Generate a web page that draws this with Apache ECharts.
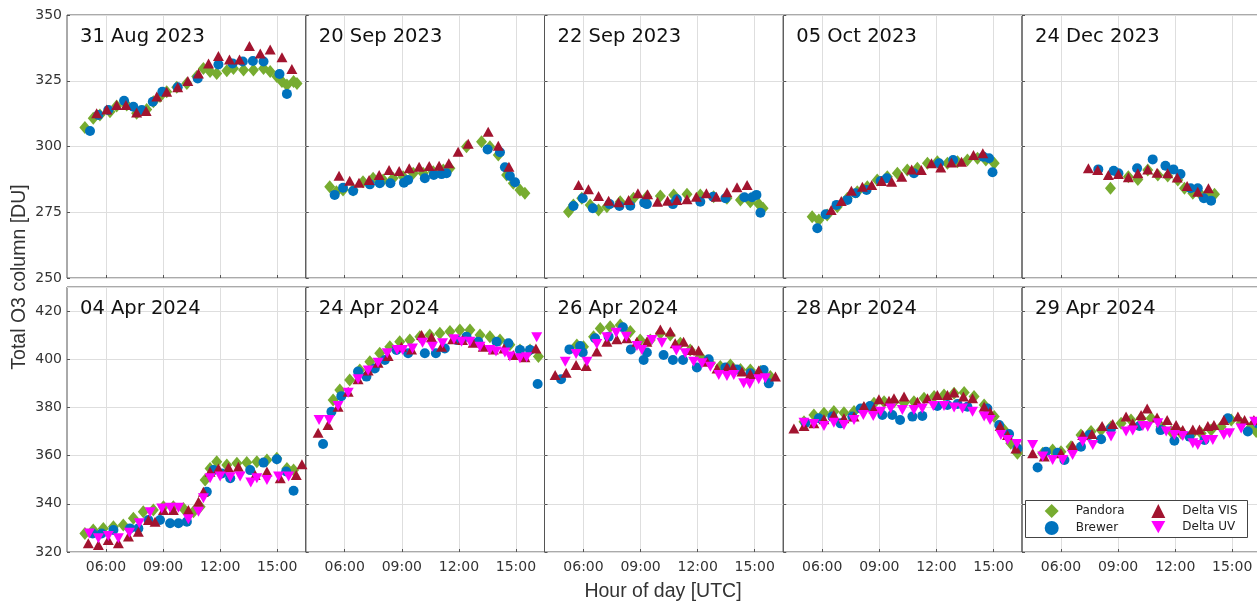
<!DOCTYPE html>
<html>
<head>
<meta charset="utf-8">
<script src="https://cdn.jsdelivr.net/npm/echarts@6/dist/echarts.min.js"></script>
<style>
html,body{margin:0;padding:0;background:#fff;}
#chart{width:1257px;height:604px;}
</style>
</head>
<body>
<div id="chart"></div>
<script>
// panel titles
const days = ['31 Aug 2023','20 Sep 2023','22 Sep 2023','05 Oct 2023','24 Dec 2023',
              '04 Apr 2024','24 Apr 2024','26 Apr 2024','28 Apr 2024','29 Apr 2024']
const xTicks = [6, 9, 12, 15]   // hour of day
const yTopTicks = {min: 250, max: 350, interval: 25}
const yBottomTicks = {min: 320, max: 430, interval: 20}

// [hour UTC, total O3 DU]
const pandora0831 = [[4.89,307.2],[5.33,310.7],[5.68,312],[6.21,313.2],[6.56,315.4],[7.09,315.8],[7.61,312.6],[8.14,314.1],[8.49,317],[8.84,319],[9.19,320.8],[9.72,322.5],[10.25,324],[10.77,326.6],[11.12,329.7],[11.47,328.5],[11.82,327.8],[12.35,328.8],[12.7,329.7],[13.23,329.1],[13.75,329.1],[14.28,329.7],[14.63,328.5],[14.98,326.6],[15.25,324.7],[15.51,323.4],[15.86,324.7],[16.04,324]]
const brewer0831 = [[5.16,305.9],[5.6,312],[6.12,313.9],[6.95,317.4],[7.44,315.1],[7.88,313.9],[8.46,317],[8.96,320.8],[9.77,322.5],[10.82,325.9],[11.91,331.2],[12.65,331.6],[13.19,332.3],[13.72,332.5],[14.28,332.3],[15.12,327.6],[15.51,320]]
const vis0831 = [[5.51,312.6],[6.04,314.1],[6.56,315.8],[7.05,315.8],[7.61,312.9],[8.11,313.5],[8.67,319],[9.19,320.8],[9.77,322.5],[10.3,324.9],[10.86,327.8],[11.39,331.6],[11.91,334.4],[12.49,333.1],[13.02,333.1],[13.54,338.2],[14.11,335.4],[14.63,336.9],[15.25,333.9],[15.77,329.5]]

const pandora0920 = [[5.21,284.7],[5.56,282.8],[5.91,283.5],[6.44,283.5],[6.96,286.6],[7.49,287.9],[8.02,287.3],[8.54,287.9],[9.07,288.5],[9.6,289.8],[10.12,289.8],[10.65,290.4],[11.18,291.1],[11.53,291.7],[12.4,299.9],[13.19,301.8],[13.63,299.9],[14.07,296.8],[14.51,289.2],[14.86,286],[15.21,283.5],[15.47,282.2]]
const brewer0920 = [[5.47,281.6],[5.91,284.3],[6.44,283.1],[7.32,285.6],[7.84,286],[8.4,286],[9.11,286.2],[9.33,287.3],[10.21,287.9],[10.68,289.2],[11.09,289.5],[11.35,289.8],[13.51,298.9],[14.16,297.8],[14.42,292.1],[14.68,288.8],[14.95,286.4]]
const vis0920 = [[5.7,288.9],[6.26,287],[6.75,286.2],[7.28,287.3],[7.81,289.2],[8.33,291.1],[8.86,290.7],[9.39,291.7],[9.91,292.3],[10.44,292.6],[10.96,292.7],[11.47,293.6],[11.96,298],[12.49,301],[13.54,305.6],[14.07,300.3],[14.63,292.3]]

const pandora0922 = [[5.21,275.2],[5.47,277.8],[5.91,280.3],[6.35,277.8],[6.79,275.9],[7.23,277.1],[7.93,279],[8.63,280.3],[9.33,280.9],[10.04,281.2],[10.74,281.6],[11.44,281.8],[12.14,281.6],[12.84,280.9],[13.54,280.3],[14.25,279.7],[14.77,279],[15.21,278.1],[15.44,276.5]]
const brewer0922 = [[5.47,277.4],[5.96,280.3],[6.49,276.5],[7.37,278.1],[7.89,277.4],[8.46,277.5],[9.19,278.6],[9.33,278.1],[10.7,278.1],[10.91,279.9],[12.14,279],[12.81,280.9],[13.46,280.3],[14.46,280.7],[14.86,280.7],[15.09,281.6],[15.3,274.8]]
const vis0922 = [[5.74,285.4],[6.26,283.7],[6.79,281.2],[7.32,279.4],[7.84,278.8],[8.37,279.7],[8.86,282.2],[9.37,281.8],[9.89,279],[10.42,279.4],[10.91,279.7],[11.44,279.9],[11.93,280.9],[12.46,282.2],[12.98,280.9],[13.54,282.6],[14.07,284.5],[14.6,285.4]]

const pandora1005 = [[5.47,273.3],[5.82,272.1],[6.26,274],[6.79,277.1],[7.32,280.3],[7.84,282.8],[8.37,284.7],[8.89,287.3],[9.42,288.5],[9.95,289.8],[10.47,291.1],[11,291.7],[11.53,293.6],[12.05,294.2],[12.58,293.6],[13.11,294.2],[13.63,294.9],[14.16,295.5],[14.6,294.9],[15.04,293.6]]
const brewer1005 = [[5.74,268.9],[6.18,274.2],[6.75,277.8],[7.32,279.7],[7.75,282.2],[8.33,283.5],[9.07,286.9],[9.39,287.9],[10.82,289.8],[12.14,293.6],[12.88,294.9],[14.47,296.1],[14.77,295.5],[14.95,290.2]]
const vis1005 = [[6.47,275.9],[7,279.3],[7.53,283.2],[8.11,284.7],[8.6,285.4],[9.12,286.9],[9.65,286.6],[10.18,288.5],[10.7,291.3],[11.21,291.1],[11.74,293.6],[12.23,292],[12.79,293.9],[13.32,294.2],[13.95,296.8],[14.44,297.4]]

const pandora1224 = [[8.6,284.1],[9.54,288.5],[10.04,287.5],[10.56,291.1],[11.09,289.2],[11.61,288.8],[12.14,287.3],[12.49,284.1],[12.93,282.2],[13.37,281.6],[13.72,282.2],[14.07,281.8]]
const brewer1224 = [[7.96,291.3],[8.77,290.8],[9.02,289.8],[10,291.7],[10.82,295.1],[11.49,292.7],[11.91,291.3],[12.28,289.5],[12.81,284.1],[13.19,284.1],[13.51,280.3],[13.89,279.4]]
const vis1224 = [[7.44,291.7],[7.93,291.1],[8.49,289.2],[9.02,289.5],[9.54,288.3],[10.04,289.8],[10.56,291.3],[11.05,290],[11.61,289.8],[12.11,288.2],[12.63,285],[13.19,282.8],[13.75,284.1]]

const pandora0404 = [[4.89,327.7],[5.33,329.1],[5.86,329.8],[6.39,330.5],[6.91,331.2],[7.44,334],[7.96,336.7],[8.49,337.4],[9.02,338.8],[9.54,338.8],[10.07,338.1],[10.6,336.7],[10.95,338.8],[11.21,349.9],[11.47,354.7],[11.82,357.5],[12.35,356.1],[12.88,356.8],[13.4,357.1],[13.93,357.5],[14.46,358.2],[14.98,358.9],[15.51,354.7],[15.86,354]]
const brewer0404 = [[5.3,327.7],[5.77,327.7],[6.39,329.1],[7.26,329.8],[7.7,329.8],[8.23,333.3],[8.84,333.3],[9.37,331.9],[9.81,331.9],[10.25,332.6],[11.3,345],[11.65,354],[12.09,352.6],[12.53,350.6],[13.58,354],[14.28,357.1],[14.98,358.5],[15.47,353.4],[15.86,345.4]]
const vis0404 = [[5.07,323.6],[5.6,322.9],[6.12,325],[6.65,323.6],[7.18,326.4],[7.7,328.4],[8.23,333.3],[8.58,332.6],[9.02,337.4],[9.54,337.4],[10.33,337.4],[10.86,340.9],[11.12,345],[11.47,353.3],[11.91,354.7],[12.44,355.1],[12.96,355.4],[13.84,352],[14.46,353.4],[15.16,350.6],[16,352],[16.3,356.4]]
const uv0404 = [[5.12,327.7],[5.6,325.7],[6.12,326.6],[6.65,325.7],[7.23,328],[7.75,331.9],[8.32,336.5],[8.93,338.1],[9.37,338.4],[9.81,338.4],[10.33,333.6],[10.86,336.7],[11.12,342.3],[11.47,350.6],[12,351.3],[12.53,351],[13.05,351.3],[13.61,348.8],[13.93,350.6],[14.46,349.9],[15.07,351.3],[15.6,351.3]]

const pandora0424 = [[5.39,383.1],[5.74,387.2],[6.26,391.4],[6.79,395.5],[7.32,399],[7.84,402.5],[8.37,405.2],[8.89,407.3],[9.42,408],[9.95,409.4],[10.47,410.1],[11,410.8],[11.53,411.5],[12.05,412.2],[12.58,412.2],[13.11,410.1],[13.63,409.4],[14.16,408],[14.68,406],[15.21,403.9],[15.74,403.9],[16.18,401.1]]
const brewer0424 = [[4.86,364.8],[5.3,378.2],[5.82,384.7],[6.7,394.9],[7.14,392.8],[7.58,396.2],[8.11,399.7],[8.72,403.9],[9.33,402.5],[10.21,402.5],[10.79,402.5],[11.26,404.5],[11.88,408],[12.4,409.4],[13.02,407.3],[13.98,407.3],[14.6,406.6],[15.21,403.9],[15.74,403.9],[16.14,389.7]]
const vis0424 = [[4.6,369.5],[5.12,372.7],[5.65,380.3],[6.18,386.5],[6.7,391.7],[7.23,395.3],[7.75,398.6],[8.28,401.4],[8.98,405.2],[9.51,404.1],[10.04,410.1],[10.56,409.1],[11.09,405.2],[11.67,408.3],[12.19,408],[12.75,406.9],[13.28,405.2],[13.81,404.1],[14.37,404.5],[14.86,401.8],[15.47,400.8],[16.05,404.5]]
const uv0424 = [[4.65,374.8],[5.18,374.8],[5.65,380.6],[6.18,386.1],[6.7,391.7],[7.23,395.3],[7.75,398.6],[8.23,402.5],[8.75,403.9],[9.04,403.9],[9.56,404.5],[10.09,406.9],[10.61,405.2],[11.14,406.6],[11.74,408.3],[12.14,407.3],[12.58,407.3],[13.11,405.2],[13.63,403.9],[13.95,403.2],[14.42,402.8],[14.68,401.1],[15.21,400.4],[15.56,400.8],[16.09,409.1]]

const pandora0426 = [[5.65,405.9],[6,405.2],[6.53,409.4],[6.88,412.8],[7.4,413.5],[7.93,414.2],[8.46,411.5],[8.98,408],[9.51,408],[10.04,410.8],[10.56,410.1],[11.09,406.6],[11.61,403.9],[12.14,401.1],[12.67,398.3],[13.19,397],[13.72,397.6],[14.25,395.8],[14.77,395.5],[15.3,394.9],[15.82,392.8]]
const brewer0426 = [[4.82,391.7],[5.26,404.1],[5.82,405.5],[5.96,402.8],[6.61,408.7],[7.32,409.4],[8.07,413.3],[8.49,404.1],[9.16,399.7],[9.33,402.8],[10.21,401.8],[10.7,399.7],[11.23,399.7],[11.96,396.6],[12.58,400],[13.46,396.6],[14.07,395.8],[14.77,394.2],[15.47,395.5],[15.74,390]]
const vis0426 = [[4.51,393.5],[5.09,394.4],[5.61,397.6],[6.14,397.2],[6.7,403.2],[7.23,407.3],[7.75,408.3],[8.28,408.7],[8.81,407.3],[9.33,407.3],[10.04,412.4],[10.56,411.5],[10.82,406.6],[11.26,407.3],[11.7,403.9],[12.05,403.6],[12.49,399],[13.02,396.2],[13.54,396.6],[13.86,396.6],[14.33,394.9],[14.77,393.9],[15.21,395.3],[16.09,392.8]]
const uv0426 = [[5.04,399],[5.61,402.2],[6.18,399],[6.7,406.3],[7.23,409.1],[7.72,411],[8.25,409.4],[8.81,405.5],[9.07,403.9],[9.6,408],[10.12,406.9],[10.88,403.6],[11.35,402.5],[11.79,399],[12.23,398.3],[12.67,396.9],[13.11,393.5],[13.54,393.1],[13.9,393.5],[14.42,390],[14.74,389.7],[15.21,391.7],[15.56,392.1]]

const pandora0428 = [[5.04,374.1],[5.56,376.9],[6.09,377.6],[6.61,378.3],[7.14,377.8],[7.67,378.3],[8.19,379.6],[8.72,381.7],[9.25,382.4],[9.77,382.4],[10.3,382],[10.82,382.4],[11.35,383.8],[11.88,384.5],[12.4,385.2],[12.93,385.9],[13.46,386.2],[13.98,384.5],[14.51,381],[15.04,376.2],[15.56,370.6],[15.91,365.1],[16.26,361]]
const brewer0428 = [[5.12,373.7],[5.82,375.5],[6.53,376.2],[6.96,373.4],[7.58,376.2],[8.02,379.6],[8.51,380.6],[9.16,376.9],[9.68,376.9],[10.09,374.8],[10.74,376.2],[11.26,376.5],[12.05,380.6],[12.58,381],[13.11,381.4],[13.63,380.3],[14.68,379.6],[15.3,372.7],[15.82,369],[16.26,363]]
const vis0428 = [[4.51,371.3],[5.04,372.3],[5.56,373.4],[6.09,375.1],[6.61,376.9],[7.14,375.5],[7.67,376.2],[8.19,380.6],[8.72,379.6],[8.98,383.4],[9.51,382.8],[9.77,383.8],[10.3,384.5],[11,382.4],[11.53,383.8],[12.05,385.2],[12.58,385.2],[12.93,386.2],[13.42,384.5],[13.9,383.8],[14.51,380.3],[14.82,378.2],[15.35,372.3],[15.74,368.6],[16.18,363]]
const uv0428 = [[5.04,373.7],[5.56,373.1],[6.09,372.3],[6.61,373.7],[7.14,372.7],[7.67,374.8],[8.16,376.9],[8.68,376.5],[9.07,378.2],[9.6,379.6],[10.21,378.9],[10.82,378.9],[11.26,379.6],[11.84,380.6],[12.4,380.6],[12.93,380],[13.37,379.6],[13.9,378.2],[14.51,376.2],[14.82,374.8],[15.39,368.6],[15.74,366.5],[16.23,364.8]]

const pandora0429 = [[5.04,361],[5.56,362.3],[6,361.6],[6.53,363.7],[7.05,368.6],[7.58,370],[8.11,370.6],[8.63,372],[9.16,373.4],[9.68,374.8],[10.21,375.5],[10.74,375.5],[11.26,372],[11.79,370],[12.32,369.3],[12.84,368.6],[13.37,369.3],[13.89,370.6],[14.42,372],[14.95,374.8],[15.47,373.4],[16,372],[16.26,370]]
const brewer0429 = [[4.77,355.1],[5.21,361.6],[5.82,361.2],[6.18,358.2],[7.05,363.7],[7.49,368.6],[8.11,366.8],[8.63,371.3],[10.12,372.3],[11.23,370.6],[11.96,366.2],[12.75,367.9],[13.54,366.5],[14.77,375.5],[15.82,370],[16.35,373.4]]
const vis0429 = [[4.51,361],[5.12,359.6],[6,361],[6.61,364.1],[7.14,368.6],[7.63,369],[8.16,372.3],[8.72,373.1],[9.42,376.2],[9.77,373.4],[10.21,376.9],[10.53,379.6],[11.05,375.8],[11.58,374.8],[12.05,372.7],[12.4,370.6],[12.93,370.9],[13.28,370.9],[13.72,372.3],[14.04,372.7],[14.56,374.8],[15.3,376.2],[15.65,374.8],[16.14,374.8]]
const uv0429 = [[4.51,364.4],[5.04,359.6],[5.56,358.2],[6.09,358.2],[6.61,360.3],[7.14,365.8],[7.67,364.4],[8.63,367.9],[9.42,370],[9.77,370.4],[10.3,372.3],[10.56,372],[11.09,373.4],[11.53,370],[11.96,368.6],[12.4,368.1],[12.93,365.1],[13.19,364.4],[13.63,366.5],[13.98,366.5],[14.56,368.6],[14.86,369.3],[15.47,371.3],[16.18,374.1]]

const pandora = [pandora0831,pandora0920,pandora0922,pandora1005,pandora1224,pandora0404,pandora0424,pandora0426,pandora0428,pandora0429]
const brewer = [brewer0831,brewer0920,brewer0922,brewer1005,brewer1224,brewer0404,brewer0424,brewer0426,brewer0428,brewer0429]
const deltaVis = [vis0831,vis0920,vis0922,vis1005,vis1224,vis0404,vis0424,vis0426,vis0428,vis0429]
const deltaUv = [null,null,null,null,null,uv0404,uv0424,uv0426,uv0428,uv0429]

const colors = {pandora:'#77ac30', brewer:'#0072bd', vis:'#a2142f', uv:'#ff00ff'}
const font = 'DejaVu Sans'
const invTriangle = 'path://M0,0 L10,0 L5,8.7 Z'

const chart = echarts.init(document.getElementById('chart'))

const colW = 238.75
const grids = [], xAxes = [], yAxes = [], series = [], titles = []
days.forEach((day, i) => {
    const row = Math.floor(i / 5), col = i % 5
    const top = row ? 287 : 15
    grids.push({
        left: 67 + col * colW, top: top, width: colW, height: row ? 265 : 263,
        show: true, borderColor: '#555', borderWidth: 1,
        containLabel: false, outerBoundsMode: 'none'
    })
    titles.push({
        text: day, left: 80 + col * colW, top: top + 12, padding: 0,
        textStyle: {fontFamily: font, fontSize: 19.5, fontWeight: 'normal', color: '#111'}
    })
    xAxes.push({
        type: 'value', gridIndex: i, min: 3.95, max: 16.5,
        axisLine: {show: false},
        axisTick: {show: true, inside: true, length: 3, customValues: xTicks, lineStyle: {color: '#555'}},
        axisLabel: {
            show: row === 1, customValues: xTicks, margin: 8,
            fontFamily: font, fontSize: 14, color: '#333',
            formatter: v => String(v).padStart(2, '0') + ':00'
        },
        splitLine: {show: true, lineStyle: {color: '#dedede'}}
    })
    const yt = row ? yBottomTicks : yTopTicks
    yAxes.push({
        type: 'value', gridIndex: i, min: yt.min, max: yt.max, interval: yt.interval,
        axisLine: {show: false},
        axisTick: {show: true, inside: true, length: 3, lineStyle: {color: '#555'}},
        axisLabel: {
            show: col === 0, margin: 5, showMaxLabel: row === 0,
            fontFamily: font, fontSize: 14, color: '#333'
        },
        splitLine: {show: true, lineStyle: {color: '#dedede'}}
    })
    series.push({
        name: 'Pandora', type: 'scatter', xAxisIndex: i, yAxisIndex: i,
        symbol: 'diamond', symbolSize: [11, 13], data: pandora[i],
        itemStyle: {color: colors.pandora, opacity: 1}
    })
    series.push({
        name: 'Brewer', type: 'scatter', xAxisIndex: i, yAxisIndex: i,
        symbol: 'circle', symbolSize: 10, data: brewer[i],
        itemStyle: {color: colors.brewer, opacity: 1}
    })
    series.push({
        name: 'Delta VIS', type: 'scatter', xAxisIndex: i, yAxisIndex: i,
        symbol: 'triangle', symbolSize: [11, 10], data: deltaVis[i],
        itemStyle: {color: colors.vis, opacity: 1}
    })
    // only 2024 days have Delta UV, but the legend still needs the series
    series.push({
        name: 'Delta UV', type: 'scatter', xAxisIndex: i, yAxisIndex: i,
        symbol: invTriangle, symbolSize: [11, 10], data: deltaUv[i] || [],
        itemStyle: {color: colors.uv, opacity: 1}
    })
})

const legendText = {fontFamily: font, fontSize: 12, color: '#222', padding: [0, 0, 0, 12]}
const option = {
    animation: false,
    backgroundColor: '#fff',
    title: titles,
    grid: grids,
    xAxis: xAxes,
    yAxis: yAxes,
    series: series,
    legend: [{
        data: ['Pandora', 'Brewer'], orient: 'vertical', left: 1044.7, top: 504,
        itemWidth: 14, itemHeight: 14, itemGap: 3, padding: 0, selectedMode: false,
        textStyle: legendText, z: 10
    }, {
        data: ['Delta VIS', 'Delta UV'], orient: 'vertical', left: 1151.3, top: 504,
        itemWidth: 14, itemHeight: 14, itemGap: 3, padding: 0, selectedMode: false,
        textStyle: legendText, z: 10
    }],
    graphic: [{
        // legend box
        type: 'rect', z: 5, shape: {x: 1025.5, y: 500.5, width: 222, height: 37},
        style: {fill: '#fff', stroke: '#444', lineWidth: 1}
    }, {
        type: 'text', x: 20, y: 277, rotation: Math.PI / 2,
        style: {text: 'Total O3 column [DU]', fontFamily: 'Liberation Sans', fontSize: 19.5,
                fill: '#333', align: 'center', verticalAlign: 'middle'}
    }, {
        type: 'text', x: 663, y: 592,
        style: {text: 'Hour of day [UTC]', fontFamily: 'Liberation Sans', fontSize: 19.5,
                fill: '#333', align: 'center', verticalAlign: 'middle'}
    }]
}
chart.setOption(option)
</script>
</body>
</html>
